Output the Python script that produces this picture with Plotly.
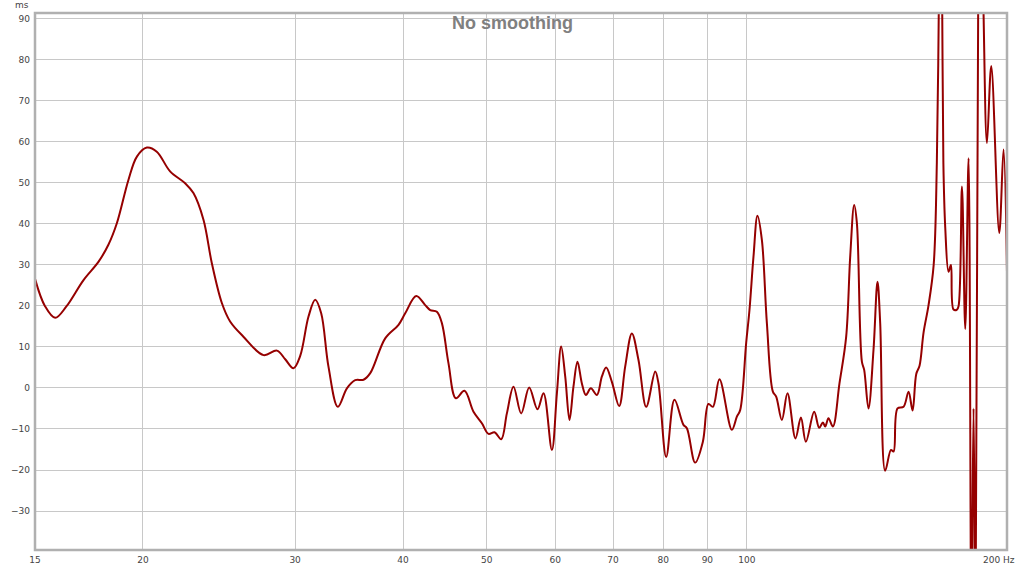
import math
import plotly.graph_objects as go

# Frequency (Hz) and group delay (ms)
freq_hz = [
    15.0, 15.4, 15.83, 16.3, 17.07, 17.77, 18.24, 18.66, 19.24, 19.68,
    20.21, 20.75, 21.50, 22.38, 22.88, 23.50, 24.03, 24.68, 25.23, 26.14,
    27.58, 28.58, 29.22, 29.87, 30.41, 31.09, 31.65, 32.16, 32.79, 33.62,
    34.44, 35.21, 36.00, 36.65, 38.14, 39.52, 40.23, 41.43, 42.43, 43.00,
    43.77, 44.36, 45.15, 46.05, 47.11, 48.26, 49.35, 50.23, 51.04, 51.96,
    52.75, 53.69, 54.80, 55.98, 57.23, 58.16, 59.47, 60.27, 60.96, 61.62,
    62.33, 62.99, 63.67, 64.42, 65.11, 65.98, 67.05, 67.95, 68.73, 69.78,
    71.15, 72.30, 73.60, 74.91, 76.47, 78.32, 79.01, 80.65, 82.45, 84.45,
    85.22, 87.12, 88.93, 90.26, 91.33, 92.95, 96.07, 97.36, 98.22, 99.81,
    100.69, 101.77, 102.86, 104.07, 105.47, 107.17, 108.11, 109.77, 111.42, 113.82,
    115.48, 117.02, 119.64, 121.25, 122.45, 123.20, 124.29, 125.75, 127.98, 130.29,
    131.69, 133.10, 134.06, 135.86, 136.69, 138.27, 140.13, 141.63, 142.65, 144.56,
    146.80, 147.82, 149.40, 151.81, 153.85, 155.50, 157.04, 158.42, 160.12, 162.27,
    164.5, 165.9, 166.9, 167.5, 168.2, 168.8, 169.65, 171.15, 172.25, 173.45,
    175.03, 175.8, 177.38, 178.94, 180.53, 181.9, 182.95, 183.9, 185.2, 186.5,
    187.9, 189.6, 191.78, 195.91, 198.17, 200.0,
]
delay_ms = [
    26.6, 20.0, 17.1, 19.8, 26.3, 30.8, 34.9, 40.2, 50.7, 56.4,
    58.6, 57.6, 52.8, 49.9, 47.5, 41.0, 30.4, 20.7, 16.2, 12.5,
    8.0, 9.1, 7.0, 4.8, 7.8, 17.4, 21.5, 18.2, 5.2, -4.6,
    -0.1, 1.9, 2.0, 3.6, 12.1, 15.4, 18.2, 22.4, 20.2, 19.0,
    18.6, 15.8, 6.0, -2.5, -0.7, -5.8, -8.6, -11.2, -10.8, -12.5,
    -6.2, 0.3, -6.2, 0.1, -5.2, -1.3, -15.1, -1.3, 10.1, 2.8,
    -7.8, 0.3, 6.4, 1.1, -1.7, -0.1, -1.7, 2.8, 5.0, 1.5,
    -4.4, 5.2, 13.3, 6.8, -4.6, 4.0, 1.1, -16.8, -2.9, -9.0,
    -9.8, -18.2, -13.1, -3.9, -4.6, 2.1, -10.2, -7.0, -5.4, 11.0,
    19.0, 32.0, 42.0, 36.1, 15.8, -0.9, -2.1, -7.8, -1.3, -12.3,
    -7.2, -13.1, -5.8, -9.7, -8.4, -9.4, -7.4, -9.4, 1.1, 12.5,
    32.0, 44.6, 40.2, 6.4, 4.4, -5.0, 9.3, 25.9, 15.8, -20.2,
    -15.1, -15.5, -5.0, -4.6, -0.9, -5.5, 3.4, 5.4, 13.5, 20.2,
    30.0, 55.0, 100.0, 130.0, 100.0, 55.0, 39.1, 28.3, 30.0, 19.1,
    19.1, 20.0, 49.1, 14.4, 56.0, -60.0, -5.0, -60.0, 91.0, 140.0,
    91.0, 59.7, 78.5, 37.8, 58.1, 28.0,
]

y_ticks = list(range(-30, 100, 10))
x_ticks = [15, 20, 30, 40, 50, 60, 70, 80, 90, 100, 200]
x_tick_text = ["15", "20", "30", "40", "50", "60", "70", "80", "90", "100", ""]

fig = go.Figure()
fig.add_trace(go.Scatter(
    x=freq_hz, y=delay_ms, mode="lines",
    line=dict(color="#950000", width=2, shape="spline", smoothing=1.0),
    hoverinfo="skip", showlegend=False,
))

tick_font = dict(family="DejaVu Sans", size=9, color="#444444")
fig.update_layout(
    width=1024, height=569,
    margin=dict(l=35, r=17, t=13, b=19, autoexpand=False),
    paper_bgcolor="white", plot_bgcolor="white",
    xaxis=dict(
        type="log", range=[math.log10(15), math.log10(200)],
        tickvals=x_ticks, ticktext=x_tick_text,
        showgrid=True, gridcolor="#c8c8c8", gridwidth=1,
        zeroline=False, showline=False, ticks="", automargin=False,
        tickfont=tick_font, ticklabelstandoff=3,
    ),
    yaxis=dict(
        range=[-39.5, 91.4], tickvals=y_ticks,
        showgrid=True, gridcolor="#c8c8c8", gridwidth=1,
        zeroline=False, showline=False, ticks="", automargin=False,
        tickfont=tick_font, ticklabelstandoff=4,
    ),
    shapes=[dict(type="rect", xref="paper", yref="paper", x0=0, x1=1, y0=0, y1=1,
                 line=dict(color="#b0b0b0", width=2.5), layer="above")],
    annotations=[
        dict(text="No smoothing", xref="paper", yref="paper",
             x=(512.5 - 35) / 972, y=1, xanchor="center", yanchor="top", yshift=2,
             showarrow=False,
             font=dict(family="Liberation Sans", size=18, color="#808080", weight="bold")),
        dict(text="ms", xref="paper", yref="paper", x=0, y=1,
             xanchor="right", yanchor="middle", xshift=-4, yshift=8,
             showarrow=False, font=tick_font),
        dict(text="200 Hz", xref="x", yref="paper", x=math.log10(200), y=0,
             xanchor="right", yanchor="top", xshift=10, yshift=-3,
             showarrow=False, font=tick_font),
    ],
)

fig.write_html(
    "out.html",
    config={"displayModeBar": False},
    post_script="document.body.style.margin='0';document.body.style.overflow='hidden';",
)
